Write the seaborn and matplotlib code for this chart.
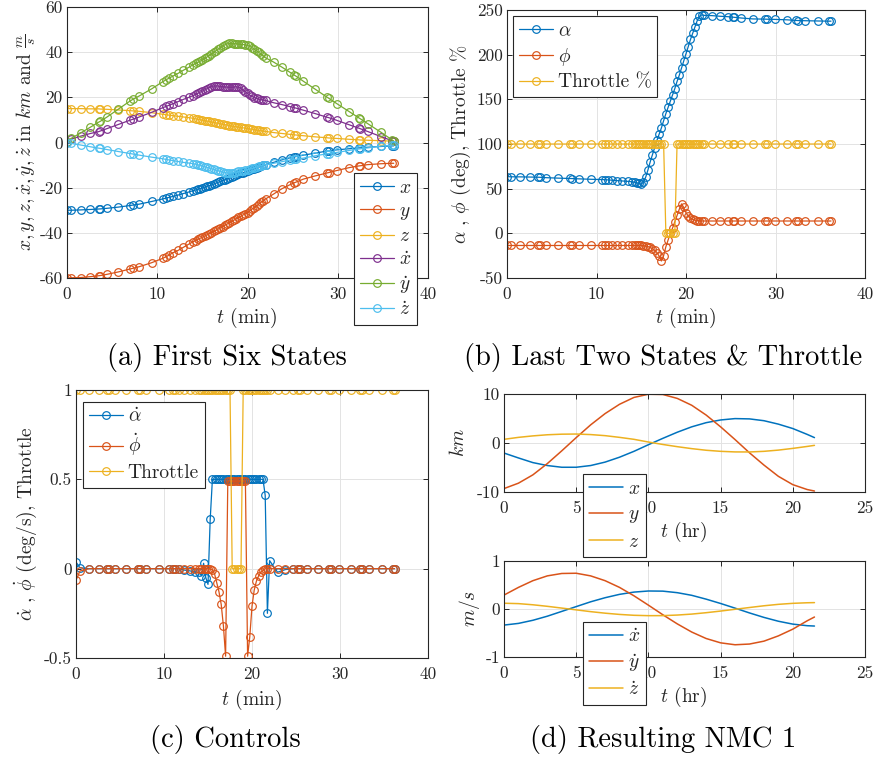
import matplotlib
matplotlib.use("Agg")
import matplotlib.pyplot as plt
import seaborn as sns
from matplotlib.ticker import FuncFormatter

# ---------------- data ----------------
# time grid (min) shared by panels (a), (b), (c)
t_min = [0, 0.45, 1.5, 2.6, 3.5, 3.7, 4.4, 5.7, 7.0, 7.3, 8.0, 9.4, 10.6, 11.0, 11.3, 11.7, 12.3, 12.9, 13.5,
         14.0, 14.25, 14.5, 14.75, 15.0, 15.25, 15.5, 15.75, 16.0, 16.25, 16.5, 16.75, 17.0, 17.25, 17.5, 17.75,
         18.0, 18.25, 18.5, 18.75, 19.0, 19.25, 19.5, 19.75, 20.0, 20.25, 20.5, 20.75, 21.0, 21.25, 21.5, 21.75, 22.0,
         22.9, 23.8, 24.7, 25.2, 25.4, 26.2, 27.5, 28.8, 29.0, 29.9, 31.3, 32.3, 32.5, 33.3, 34.8, 36.0, 36.2]

# (a) first six states
a_x = [-30.0, -30.0, -29.85, -29.65, -29.45, -29.4, -29.15, -28.6, -27.9, -27.7, -27.3, -26.1, -25.0, -24.6, -24.3, -23.9, -23.3, -22.6, -21.9,
       -21.3, -21.0, -20.7, -20.4, -20.1, -19.75, -19.4, -19.1, -18.8, -18.4, -18.0, -17.6, -17.2, -16.8, -16.5, -16.1,
       -15.7, -15.3, -14.9, -14.5, -14.1, -13.7, -13.4, -13.0, -12.6, -12.25, -11.9, -11.55, -11.2, -10.85, -10.5, -10.15, -9.8,
       -8.8, -7.7, -6.8, -6.4, -6.2, -5.6, -4.7, -3.8, -3.7, -3.25, -2.75, -2.4, -2.35, -2.1, -1.75, -1.5, -1.5]
a_y = [-60.0, -59.9, -59.8, -59.4, -59.0, -58.9, -58.4, -57.3, -56.0, -55.7, -55.0, -53.2, -51.3, -50.5, -49.9, -48.9, -47.8, -46.4, -45.0,
       -43.9, -43.4, -42.9, -42.4, -41.9, -41.4, -40.9, -40.4, -39.9, -39.4, -38.9, -38.3, -37.8, -37.2, -36.6, -36.1,
       -35.5, -34.9, -34.4, -33.8, -33.2, -32.7, -32.1, -31.6, -31.0, -30.3, -29.5, -28.8, -28.0, -27.3, -26.5, -25.8, -25.0,
       -22.8, -20.5, -18.7, -17.8, -17.5, -16.2, -14.8, -13.5, -13.3, -12.4, -11.1, -10.4, -10.3, -9.8, -9.4, -9.2, -9.2]
a_z = [15.0, 15.0, 15.0, 14.9, 14.9, 14.8, 14.7, 14.4, 14.1, 14.0, 13.8, 13.2, 12.5, 12.3, 12.1, 11.9, 11.6, 11.3, 11.0,
       10.7, 10.5, 10.3, 10.1, 9.9, 9.7, 9.5, 9.3, 9.1, 8.9, 8.7, 8.5, 8.3, 8.1, 7.9, 7.7,
       7.5, 7.3, 7.1, 6.95, 6.8, 6.65, 6.5, 6.35, 6.2, 6.0, 5.85, 5.7, 5.5, 5.35, 5.2, 5.05, 4.9,
       4.4, 4.0, 3.6, 3.4, 3.3, 3.0, 2.5, 2.1, 2.0, 1.8, 1.4, 1.2, 1.1, 1.0, 0.8, 0.6, 0.6]
a_xdot = [0.3, 1.5, 2.8, 4.0, 4.8, 5.1, 6.1, 8.0, 9.9, 10.3, 11.3, 13.4, 15.4, 16.0, 16.5, 17.1, 18.1, 19.1, 20.0,
          20.8, 21.3, 21.8, 22.3, 22.8, 23.3, 23.8, 24.3, 24.7, 25.0, 25.1, 25.0, 24.8, 24.7, 24.6, 24.5,
          24.5, 24.5, 24.6, 24.7, 24.5, 24.0, 23.3, 22.5, 21.7, 21.0, 20.4, 19.9, 19.5, 19.2, 19.0, 18.8, 18.6,
          17.6, 16.8, 15.9, 15.4, 15.2, 14.3, 12.8, 11.2, 11.0, 9.8, 7.8, 6.4, 6.1, 4.9, 2.6, 0.8, 0.5]
a_ydot = [0.3, 1.8, 4.2, 6.8, 9.0, 9.4, 11.2, 14.8, 18.4, 19.1, 20.6, 23.8, 26.9, 27.8, 28.5, 29.3, 30.6, 32.0, 33.3,
          34.5, 35.0, 35.5, 36.0, 36.6, 37.2, 37.8, 38.5, 39.2, 39.9, 40.6, 41.3, 42.0, 42.7, 43.3, 43.7,
          43.9, 43.9, 43.8, 43.7, 43.6, 43.5, 43.4, 43.2, 43.0, 42.6, 42.0, 41.3, 40.6, 39.9, 39.1, 38.3, 37.5,
          35.6, 33.4, 31.1, 29.8, 29.3, 27.1, 23.6, 20.1, 19.6, 17.2, 13.6, 11.0, 10.5, 8.4, 4.5, 1.2, 0.6]
a_zdot = [0.0, -0.4, -1.1, -1.9, -2.5, -2.6, -3.1, -4.0, -4.9, -5.1, -5.6, -6.5, -7.2, -7.5, -7.7, -8.0, -8.4, -8.8, -9.1,
          -9.4, -9.6, -9.9, -10.1, -10.4, -10.7, -11.0, -11.3, -11.6, -11.9, -12.2, -12.5, -12.8, -13.1, -13.3, -13.5,
          -13.6, -13.5, -13.3, -13.1, -12.8, -12.6, -12.4, -12.2, -12.0, -11.7, -11.4, -11.1, -10.8, -10.5, -10.2, -10.0, -9.8,
          -9.2, -8.5, -7.8, -7.5, -7.4, -6.9, -5.9, -5.0, -4.9, -4.4, -3.5, -2.9, -2.8, -2.4, -1.6, -1.2, -1.2]

# (b) last two states & throttle
b_alpha = [63.5, 63.3, 63.2, 63.0, 62.8, 62.7, 62.3, 61.8, 61.4, 61.3, 61.0, 60.5, 60.2, 60.0, 59.8, 59.5, 59.0, 58.6, 58.2,
           57.6, 57.2, 56.6, 55.8, 55.0, 57.5, 63.0, 71.0, 80.0, 88.0, 96.0, 104.0, 111.0, 118.0, 126.0, 134.0,
           141.0, 148.0, 155.0, 162.0, 170.0, 177.0, 185.0, 193.0, 201.0, 209.0, 217.0, 224.0, 231.0, 238.0, 243.0, 244.5, 244.0,
           243.7, 243.0, 242.5, 242.0, 241.8, 241.0, 240.0, 239.8, 239.7, 239.5, 239.0, 238.3, 238.2, 238.0, 237.7, 237.5, 237.5]
b_phi = [-13.6, -13.6, -13.6, -13.6, -13.6, -13.6, -13.6, -13.6, -13.6, -13.6, -13.6, -13.6, -13.6, -13.6, -13.6, -13.6, -13.6, -13.6, -13.6,
         -13.6, -13.6, -13.6, -13.6, -13.6, -13.8, -14.2, -14.8, -15.8, -17.2, -19.0, -21.5, -25.5, -31.0, -25.0, -15.0,
         -7.5, 0.0, 6.0, 13.0, 20.0, 27.0, 33.0, 29.0, 23.0, 19.5, 17.0, 15.5, 14.8, 14.3, 14.0, 13.9, 13.8,
         13.8, 13.8, 13.8, 13.8, 13.8, 13.8, 13.8, 13.8, 13.8, 13.8, 13.8, 13.8, 13.8, 13.8, 13.8, 13.8, 13.8]
b_throttle = [100, 100, 100, 100, 100, 100, 100, 100, 100, 100, 100, 100, 100, 100, 100, 100, 100, 100, 100,
              100, 100, 100, 100, 100, 100, 100, 100, 100, 100, 100, 100, 100, 100, 100, 0,
              0, 0, 0, 0, 100, 100, 100, 100, 100, 100, 100, 100, 100, 100, 100, 100, 100,
              100, 100, 100, 100, 100, 100, 100, 100, 100, 100, 100, 100, 100, 100, 100, 100, 100]

# (c) controls
c_alphadot = [0.037, 0.005, 0.0, 0.0, 0.0, 0.0, 0.0, 0.0, 0.0, 0.0, 0.0, 0.0, 0.0, 0.0, 0.0, 0.0, -0.008, -0.012, -0.018,
              -0.02, -0.04, 0.03, -0.05, -0.088, 0.276, 0.5, 0.5, 0.5, 0.5, 0.5, 0.5, 0.5, 0.5, 0.5, 0.5,
              0.5, 0.5, 0.5, 0.5, 0.5, 0.5, 0.5, 0.5, 0.5, 0.5, 0.5, 0.5, 0.5, 0.5, 0.41, -0.25, 0.045,
              -0.02, -0.005, 0.0, 0.0, 0.0, 0.0, 0.0, 0.0, 0.0, 0.0, 0.0, 0.0, 0.0, 0.0, 0.0, 0.0, 0.0]
c_phidot = [-0.065, -0.013, 0.0, 0.0, 0.0, 0.0, 0.0, 0.0, 0.0, 0.0, 0.0, 0.0, 0.0, 0.0, 0.0, 0.0, 0.0, 0.0, 0.0,
            0.0, 0.0, 0.0, 0.0, 0.0, -0.002, -0.005, -0.03, -0.08, -0.13, -0.2, -0.32, -0.49, 0.49, 0.49, 0.49,
            0.49, 0.49, 0.49, 0.49, 0.49, 0.49, -0.49, -0.38, -0.21, -0.12, -0.07, -0.04, -0.02, -0.01, 0.0, 0.0, 0.0,
            0.0, 0.0, 0.0, 0.0, 0.0, 0.0, 0.0, 0.0, 0.0, 0.0, 0.0, 0.0, 0.0, 0.0, 0.0, 0.0, 0.0]
c_throttle = [1, 1, 1, 1, 1, 1, 1, 1, 1, 1, 1, 1, 1, 1, 1, 1, 1, 1, 1,
              1, 1, 1, 1, 1, 1, 1, 1, 1, 1, 1, 1, 1, 1, 1, 0,
              0, 0, 0, 0, 1, 1, 1, 1, 1, 1, 1, 1, 1, 1, 1, 1, 1,
              1, 1, 1, 1, 1, 1, 1, 1, 1, 1, 1, 1, 1, 1, 1, 1, 1]

# (d) resulting NMC (hours)
t_hr = [0, 1, 2, 3, 4, 5, 6, 7, 8, 9, 10, 11, 12, 13, 14, 15, 16, 17, 18, 19, 20, 21, 21.5]
d_x = [-2.05, -3.05, -4.0, -4.6, -4.95, -4.95, -4.6, -3.9, -2.9, -1.7, -0.35, 0.95, 2.2, 3.3, 4.15, 4.7, 4.98, 4.92, 4.55, 3.85, 2.95, 1.75, 1.1]
d_y = [-9.3, -8.2, -6.5, -4.2, -1.6, 1.1, 3.7, 6.0, 7.9, 9.3, 9.95, 9.9, 9.1, 7.7, 5.7, 3.3, 0.7, -2.0, -4.5, -6.8, -8.5, -9.5, -9.8]
d_z = [0.75, 1.15, 1.45, 1.68, 1.8, 1.83, 1.72, 1.5, 1.15, 0.75, 0.2, -0.3, -0.75, -1.15, -1.48, -1.7, -1.82, -1.83, -1.7, -1.45, -1.1, -0.7, -0.48]
d_xdot = [-0.335, -0.3, -0.235, -0.15, -0.05, 0.05, 0.15, 0.235, 0.305, 0.352, 0.375, 0.372, 0.34, 0.285, 0.205, 0.115, 0.018, -0.082, -0.175, -0.255, -0.315, -0.348, -0.355]
d_ydot = [0.29, 0.45, 0.59, 0.69, 0.74, 0.745, 0.69, 0.59, 0.45, 0.275, 0.08, -0.12, -0.31, -0.48, -0.615, -0.705, -0.745, -0.73, -0.67, -0.56, -0.42, -0.245, -0.167]
d_zdot = [0.12, 0.112, 0.088, 0.056, 0.019, -0.018, -0.055, -0.087, -0.113, -0.131, -0.139, -0.138, -0.126, -0.106, -0.077, -0.043, -0.006, 0.031, 0.067, 0.097, 0.118, 0.13, 0.133]

captions = ["(a) First Six States", "(b) Last Two States & Throttle", "(c) Controls", "(d) Resulting NMC 1"]

COLORS = ["#0072BD", "#D95319", "#EDB120", "#7E2F8E", "#77AC30", "#4DBEEE"]

# ---------------- style ----------------
sns.set_theme(style="whitegrid")
plt.rcParams.update({
    "font.family": "serif",
    "font.serif": ["cmr10"],
    "mathtext.fontset": "cm",
    "axes.unicode_minus": False,
    "axes.formatter.use_mathtext": False,
    "figure.facecolor": "white",
    "axes.facecolor": "white",
})

W, H = 875, 763
fig = plt.figure(figsize=(W / 100, H / 100), dpi=100)
DARK = "#262626"


def axes_px(l, t, r, b):
    return fig.add_axes([l / W, 1 - b / H, (r - l) / W, (b - t) / H])


def style(ax, xlim, xticks, ylim, yticks):
    ax.set_xlim(xlim)
    ax.set_ylim(ylim)
    ax.set_xticks(xticks)
    ax.set_yticks(yticks)
    fmt = FuncFormatter(lambda v, p: f"{v:g}")
    ax.xaxis.set_major_formatter(fmt)
    ax.yaxis.set_major_formatter(fmt)
    ax.grid(True, color="#e3e3e3", linewidth=0.7)
    ax.set_axisbelow(True)
    ax.tick_params(axis="both", which="major", direction="in", length=3.5, width=0.7,
                   top=True, right=True, bottom=True, left=True, labelsize=12.5, colors=DARK)
    ax.tick_params(axis="x", pad=6)
    ax.tick_params(axis="y", pad=3)
    for s in ax.spines.values():
        s.set_visible(True)
        s.set_color(DARK)
        s.set_linewidth(0.8)


def mline(ax, t, y, color, label, marker=True):
    kw = dict(color=color, linewidth=0.9, label=label)
    if marker:
        kw.update(marker="o", markersize=5.5, markerfacecolor="none",
                  markeredgecolor=color, markeredgewidth=0.85)
    else:
        kw.update(linewidth=1.1)
    sns.lineplot(x=t, y=y, ax=ax, sort=False, estimator=None, **kw)


def legend(ax, x, y, fs=14, spacing=0.3):
    leg = ax.legend(loc="upper left", bbox_to_anchor=(x / W, 1 - y / H), bbox_transform=fig.transFigure,
                    borderaxespad=0, frameon=True, fancybox=False, framealpha=1, facecolor="white",
                    edgecolor=DARK, fontsize=fs, handlelength=1.75, handletextpad=0.25,
                    borderpad=0.3, labelspacing=spacing)
    leg.get_frame().set_linewidth(0.8)
    leg.set_zorder(10)


def labels(ax, xl, xpos, yl, ypos, fs=14):
    ax.set_xlabel(xl, fontsize=fs, va="center", ha="center", color=DARK)
    ax.xaxis.set_label_coords(xpos[0] / W, 1 - xpos[1] / H, transform=fig.transFigure)
    ax.set_ylabel(yl, fontsize=fs, va="center", ha="center", color=DARK)
    ax.yaxis.set_label_coords(ypos[0] / W, 1 - ypos[1] / H, transform=fig.transFigure)


# ---------------- (a) ----------------
ax_a = axes_px(67, 7, 428, 278)
for vals, c, lab in zip([a_x, a_y, a_z, a_xdot, a_ydot, a_zdot], COLORS,
                        [r"$x$", r"$y$", r"$z$", r"$\dot{x}$", r"$\dot{y}$", r"$\dot{z}$"]):
    mline(ax_a, t_min, vals, c, lab)
style(ax_a, (0, 40), [0, 10, 20, 30, 40], (-60, 60), [-60, -40, -20, 0, 20, 40, 60])
labels(ax_a, r"$t$ (min)", (247, 318),
       r"$x, y, z, \dot{x}, \dot{y}, \dot{z}$ in $km$ and $\frac{m}{s}$", (26, 142))
legend(ax_a, 354, 173, spacing=0.28)

# ---------------- (b) ----------------
ax_b = axes_px(507, 10, 865, 278)
for vals, c, lab in zip([b_alpha, b_phi, b_throttle], COLORS[:3],
                        [r"$\alpha$", r"$\phi$", "Throttle %"]):
    mline(ax_b, t_min, vals, c, lab)
style(ax_b, (0, 40), [0, 10, 20, 30, 40], (-50, 250), [-50, 0, 50, 100, 150, 200, 250])
labels(ax_b, r"$t$ (min)", (686, 318), r"$\alpha$ , $\phi$ (deg), Throttle %", (461, 144))
legend(ax_b, 513, 16)

# ---------------- (c) ----------------
ax_c = axes_px(76, 390, 428, 658)
for vals, c, lab in zip([c_alphadot, c_phidot, c_throttle], COLORS[:3],
                        [r"$\dot{\alpha}$", r"$\dot{\phi}$", "Throttle"]):
    mline(ax_c, t_min, vals, c, lab)
style(ax_c, (0, 40), [0, 10, 20, 30, 40], (-0.5, 1), [-0.5, 0, 0.5, 1])
labels(ax_c, r"$t$ (min)", (252, 700), r"$\dot{\alpha}$ , $\dot{\phi}$ (deg/s), Throttle", (26, 524))
legend(ax_c, 83, 402)

# ---------------- (d) ----------------
ax_d1 = axes_px(504, 394, 865, 492)
for vals, c, lab in zip([d_x, d_y, d_z], COLORS[:3], [r"$x$", r"$y$", r"$z$"]):
    mline(ax_d1, t_hr, vals, c, lab, marker=False)
style(ax_d1, (0, 25), [0, 5, 10, 15, 20, 25], (-10, 10), [-10, 0, 10])
labels(ax_d1, r"$t$ (hr)", (684, 532), r"$km$", (459, 443))
legend(ax_d1, 583, 474, spacing=0.4)

ax_d2 = axes_px(504, 561, 865, 657)
for vals, c, lab in zip([d_xdot, d_ydot, d_zdot], COLORS[:3], [r"$\dot{x}$", r"$\dot{y}$", r"$\dot{z}$"]):
    mline(ax_d2, t_hr, vals, c, lab, marker=False)
style(ax_d2, (0, 25), [0, 5, 10, 15, 20, 25], (-1, 1), [-1, 0, 1])
labels(ax_d2, r"$t$ (hr)", (684, 697), r"$m/s$", (469, 609))
legend(ax_d2, 583, 622, spacing=0.35)

# ---------------- captions ----------------
for txt, (cx, cy) in zip(captions, [(227, 357), (663, 357), (225, 739), (663, 739)]):
    fig.text(cx / W, 1 - cy / H, txt, ha="center", va="center", fontsize=20.5, color="black")

fig.savefig("out.png", dpi=100, facecolor="white")
